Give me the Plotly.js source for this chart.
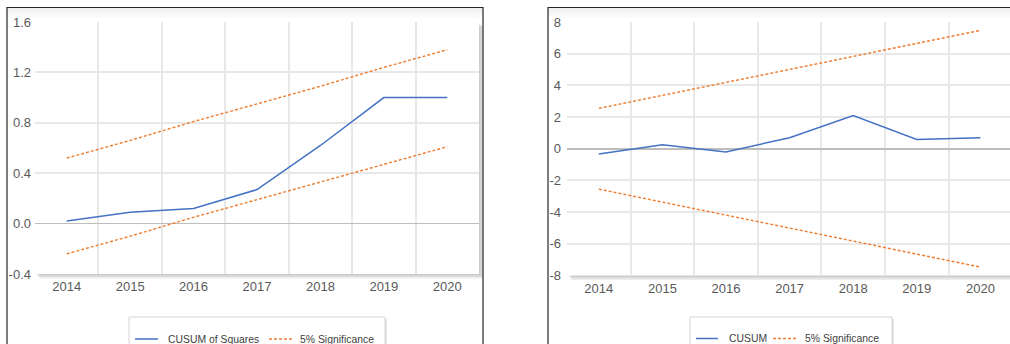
<!DOCTYPE html>
<html>
<head>
<meta charset="utf-8">
<script src="https://cdn.plot.ly/plotly-3.0.1.min.js"></script>
<style>
html,body{margin:0;padding:0;background:#fff;}
#chart{width:1010px;height:344px;}
</style>
</head>
<body>
<div id="chart"></div>
<script>
// ---- data ----
const years = [2014, 2015, 2016, 2017, 2018, 2019, 2020];
const yearLabels = ['2014', '2015', '2016', '2017', '2018', '2019', '2020'];

const cusumSq      = [0.02, 0.09, 0.12, 0.27, 0.62, 1.00, 1.00];
const cusumSqUpper = [0.52, 0.66, 0.81, 0.95, 1.09, 1.24, 1.38];
const cusumSqLower = [-0.24, -0.10, 0.05, 0.19, 0.33, 0.47, 0.61];

const cusum      = [-0.33, 0.25, -0.20, 0.70, 2.10, 0.58, 0.70];
const cusumUpper = [2.55, 3.37, 4.19, 5.01, 5.83, 6.65, 7.47];
const cusumLower = [-2.55, -3.37, -4.19, -5.01, -5.83, -6.65, -7.47];

const leftYTicks  = [-0.4, 0.0, 0.4, 0.8, 1.2, 1.6];
const leftYLabels = ['-0.4', '0.0', '0.4', '0.8', '1.2', '1.6'];
const rightYTicks  = [-8, -6, -4, -2, 0, 2, 4, 6, 8];
const rightYLabels = ['-8', '-6', '-4', '-2', '0', '2', '4', '6', '8'];

const legendLeft  = ['CUSUM of Squares', '5% Significance'];
const legendRight = ['CUSUM', '5% Significance'];

// ---- layout helpers ----
const W = 1010, H = 344;
const px = x => x / W;
const py = y => 1 - y / H;
const BLUE = '#4472C4', ORANGE = '#ED7D31';
const FONT = 'Liberation Sans, Arial, sans-serif';

const lineBlue = {color: BLUE, width: 1.5};
const lineOrange = {color: ORANGE, width: 1.4, dash: '3px,2px'};

const traces = [
  {x: years, y: cusumSq, xaxis: 'x', yaxis: 'y', mode: 'lines', line: lineBlue, name: legendLeft[0]},
  {x: years, y: cusumSqUpper, xaxis: 'x', yaxis: 'y', mode: 'lines', line: lineOrange, name: legendLeft[1]},
  {x: years, y: cusumSqLower, xaxis: 'x', yaxis: 'y', mode: 'lines', line: lineOrange, name: legendLeft[1]},
  {x: years, y: cusum, xaxis: 'x2', yaxis: 'y2', mode: 'lines', line: lineBlue, name: legendRight[0]},
  {x: years, y: cusumUpper, xaxis: 'x2', yaxis: 'y2', mode: 'lines', line: lineOrange, name: legendRight[1]},
  {x: years, y: cusumLower, xaxis: 'x2', yaxis: 'y2', mode: 'lines', line: lineOrange, name: legendRight[1]}
];

const boundaries = years.slice(1).map(v => v - 0.5);
const tickFont = {family: FONT, size: 13, color: '#595959'};

function xAxis(domain, range, anchor) {
  return {
    domain: domain, range: range, anchor: anchor,
    tickmode: 'array', tickvals: years, ticktext: yearLabels,
    showgrid: false, zeroline: false, showline: false, ticks: '',
    tickfont: tickFont, ticklabelstandoff: 3, fixedrange: true,
    minor: {tickmode: 'array', tickvals: boundaries, showgrid: true, gridcolor: '#e8e8e8', gridwidth: 2, ticks: ''}
  };
}
function yAxis(domain, range, vals, labels, anchor, standoff) {
  return {
    domain: domain, range: range, anchor: anchor,
    tickmode: 'array', tickvals: vals, ticktext: labels,
    showgrid: true, gridcolor: '#e8e8e8', gridwidth: 2,
    zeroline: true, zerolinecolor: '#bdbdbd', zerolinewidth: 1.5,
    showline: false, ticks: '', tickfont: tickFont, ticklabelstandoff: standoff, fixedrange: true
  };
}

// plot area rectangles (pixels)
const L = {x0: 35, x1: 479, y0: 22, y1: 274};
const R = {x0: 567, x1: 1010, y0: 22, y1: 275.5};

const shapes = [];
function rect(x0, y0, x1, y1, fill, line, layer) {
  shapes.push({type: 'rect', xref: 'paper', yref: 'paper', x0: px(x0), x1: px(x1), y0: py(y1), y1: py(y0),
    fillcolor: fill || 'rgba(0,0,0,0)', line: line || {width: 0}, layer: layer || 'below'});
}
function seg(x0, y, x1, line) {
  shapes.push({type: 'line', xref: 'paper', yref: 'paper', x0: px(x0), x1: px(x1), y0: py(y), y1: py(y), line: line, layer: 'above'});
}

// panel top gradient
[[7, 483], [548, 1015]].forEach(([a, b]) => {
  rect(a, 8, b, 11, 'rgba(0,0,0,0.06)');
  rect(a, 11, b, 14, 'rgba(0,0,0,0.035)');
  rect(a, 14, b, 18, 'rgba(0,0,0,0.015)');
});
// plot area shadows + white plot background
[L, R].forEach(p => {
  [1.5, 3, 4.5].forEach(o => rect(p.x0 + o, p.y0 + o, p.x1 + o, p.y1 + o, 'rgba(0,0,0,0.07)'));
  rect(p.x0, p.y0, p.x1, p.y1, '#ffffff');
});
// panel frames
rect(7, 7.5, 483, 360, null, {color: '#262626', width: 1.2}, 'above');
rect(548, 7.5, 1020, 360, null, {color: '#262626', width: 1.2}, 'above');

// legends (drawn boxes)
const legBoxes = [
  {x0: 129, x1: 385, y0: 317, s1: [135, 158], t1: 166, s2: [269, 292], t2: 298, labels: legendLeft, ty: 339},
  {x0: 690, x1: 892, y0: 317, s1: [696, 718], t1: 727, s2: [773, 797], t2: 803, labels: legendRight, ty: 338.5}
];
const annotations = [];
legBoxes.forEach(b => {
  rect(b.x0 + 2, b.y0 + 2, b.x1 + 2, 360, 'rgba(0,0,0,0.10)', null, 'above');
  rect(b.x0, b.y0, b.x1, 360, '#ffffff', {color: '#d4d4d4', width: 1}, 'above');
  seg(b.s1[0], b.ty, b.s1[1], {color: BLUE, width: 1.5});
  seg(b.s2[0], b.ty, b.s2[1], {color: ORANGE, width: 1.4, dash: '3px,2px'});
  annotations.push({xref: 'paper', yref: 'paper', x: px(b.t1), y: py(b.ty), xanchor: 'left', yanchor: 'middle',
    text: b.labels[0], showarrow: false, font: {family: FONT, size: 10.4, color: '#404040'}});
  annotations.push({xref: 'paper', yref: 'paper', x: px(b.t2), y: py(b.ty), xanchor: 'left', yanchor: 'middle',
    text: b.labels[1], showarrow: false, font: {family: FONT, size: 10.4, color: '#404040'}});
});

const layout = {
  width: W, height: H,
  margin: {l: 0, r: 0, t: 0, b: 0, pad: 0},
  paper_bgcolor: '#ffffff', plot_bgcolor: 'rgba(0,0,0,0)',
  showlegend: false,
  font: {family: FONT},
  xaxis: xAxis([px(L.x0), px(L.x1)], [2013.5, 2020.5], 'y'),
  yaxis: yAxis([py(L.y1), py(L.y0)], [-0.4, 1.6], leftYTicks, leftYLabels, 'x', 3),
  xaxis2: xAxis([px(R.x0), 1], [2013.5, 2013.5 + (R.x1 - R.x0) / 63.6], 'y2'),
  yaxis2: yAxis([py(R.y1), py(R.y0)], [-8, 8], rightYTicks, rightYLabels, 'x2', 5),
  shapes: shapes,
  annotations: annotations
};

Plotly.newPlot('chart', traces, layout, {staticPlot: true, displayModeBar: false});
</script>
</body>
</html>
